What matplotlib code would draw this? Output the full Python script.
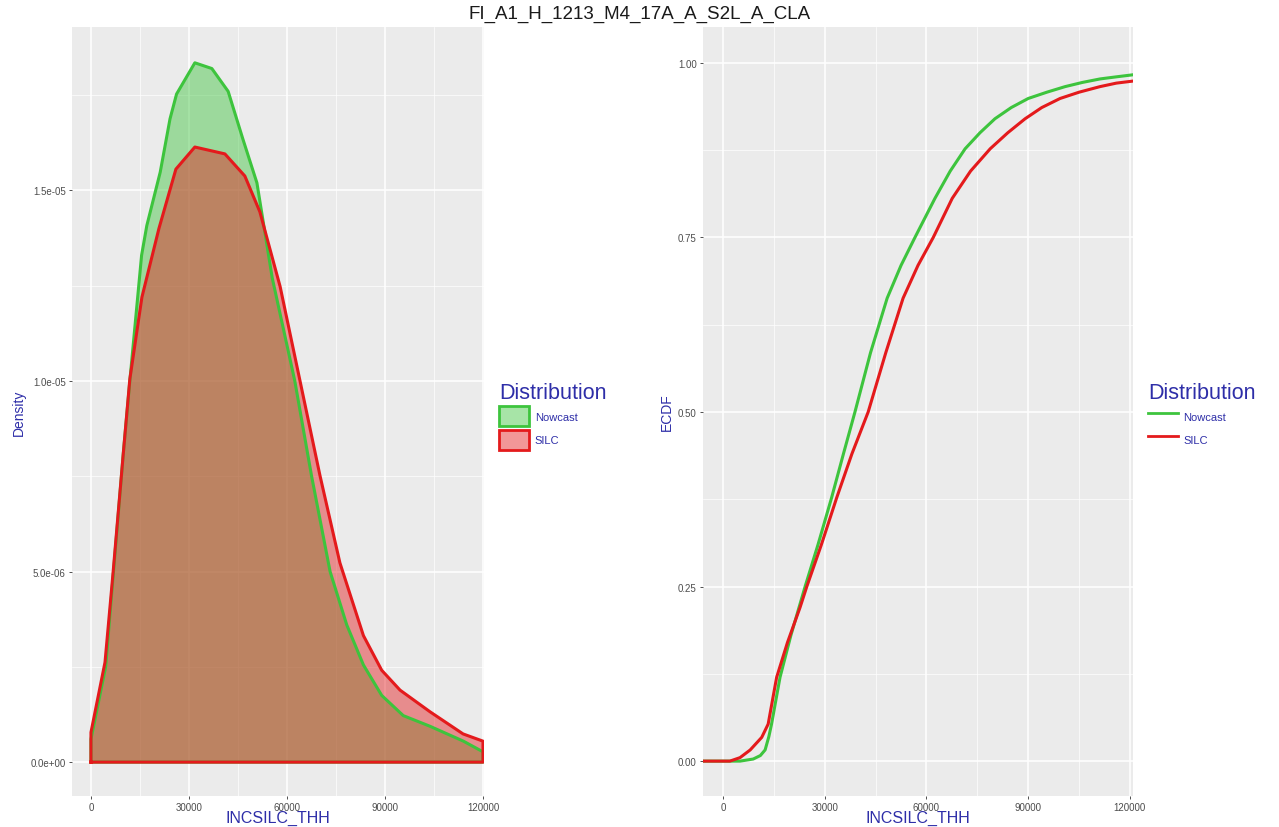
import matplotlib
matplotlib.use('Agg')
import matplotlib.pyplot as plt
from matplotlib.patches import Patch
from matplotlib.lines import Line2D

plt.rcParams['font.family'] = ['Liberation Sans', 'DejaVu Sans']

# density curves (y in units of 1e-5)
silc_x = [0, 0, 4300, 6800, 9900, 11900, 15600, 20800, 26000, 31800, 41000, 47100,
          51700, 57900, 64000, 70100, 76200, 83400, 89000, 94600, 103800, 113900, 120000, 120000]
silc_d = [0, 0.078, 0.262, 0.50, 0.81, 1.005, 1.22, 1.40, 1.556, 1.614, 1.596, 1.538,
          1.444, 1.248, 1.0, 0.752, 0.523, 0.332, 0.241, 0.189, 0.132, 0.074, 0.055, 0]
now_x = [0, 0, 4500, 6900, 9900, 11900, 15500, 17100, 21200, 24200, 26200, 31800, 37000,
         42000, 46500, 50800, 55500, 62400, 67500, 73200, 78300, 83400, 89000, 95600,
         103800, 114000, 120000, 120000]
now_d = [0, 0.06, 0.25, 0.50, 0.81, 1.0, 1.33, 1.408, 1.548, 1.688, 1.753, 1.835, 1.82,
         1.76, 1.635, 1.52, 1.27, 1.0, 0.752, 0.5, 0.36, 0.255, 0.175, 0.122,
         0.094, 0.055, 0.027, 0]

# ECDF curves
now_ex = [-6000, 5000, 8900, 11000, 12400, 13500, 14300, 16800, 20000, 24200, 28000,
          32000, 35500, 38900, 43500, 48400, 52500, 56600, 62500, 67000, 71400, 75800,
          80200, 85000, 90000, 95500, 100900, 106000, 111200, 116000, 121000]
now_ey = [0, 0, 0.003, 0.008, 0.016, 0.035, 0.053, 0.12, 0.18, 0.25, 0.31,
          0.377, 0.44, 0.50, 0.585, 0.663, 0.71, 0.75, 0.806, 0.845, 0.877, 0.90,
          0.92, 0.936, 0.949, 0.958, 0.966, 0.972, 0.977, 0.98, 0.983]
silc_ex = [-6000, 2000, 5000, 8000, 11400, 13300, 15800, 19000, 22700, 24700, 29000,
           33500, 38000, 42800, 48000, 53100, 57500, 62000, 67600, 73000, 78800, 84000,
           89100, 94000, 99400, 105000, 111200, 116000, 121000]
silc_ey = [0, 0, 0.005, 0.016, 0.034, 0.053, 0.12, 0.17, 0.22, 0.25, 0.31,
           0.377, 0.44, 0.50, 0.585, 0.663, 0.71, 0.75, 0.806, 0.845, 0.877, 0.90,
           0.92, 0.936, 0.949, 0.958, 0.966, 0.971, 0.974]

green = '#3DC43D'
red = '#E41A1C'
blue = '#2E2EA8'
bg = '#EBEBEB'

fig = plt.figure(figsize=(12.79, 8.28), dpi=100)
ax1 = fig.add_axes([0.0563, 0.0374, 0.3221, 0.9288])
ax2 = fig.add_axes([0.5497, 0.0374, 0.3361, 0.9288])


def style(ax, xt, xminor, yt, ylabels, yminor, ylabel):
    ax.set_facecolor(bg)
    for s in ax.spines.values():
        s.set_visible(False)
    ax.set_axisbelow(True)
    ax.set_xticks(xt)
    ax.set_xticklabels([str(v) for v in xt])
    ax.set_xticks(xminor, minor=True)
    ax.set_yticks(yt)
    ax.set_yticklabels(ylabels)
    ax.set_yticks(yminor, minor=True)
    ax.grid(which='major', color='white', linewidth=1.1)
    ax.grid(which='minor', color='white', linewidth=0.5)
    ax.tick_params(which='major', labelsize=7, labelcolor='#4D4D4D',
                   color='#333333', length=2.5, width=0.6, pad=2)
    ax.tick_params(which='minor', length=0)
    ax.set_xlabel('INCSILC_THH', color=blue, fontsize=11.5, labelpad=-1.5)
    ax.set_ylabel(ylabel, color=blue, fontsize=10, labelpad=3)


xt = [0, 30000, 60000, 90000, 120000]
xminor = [15000, 45000, 75000, 105000]

# left: densities
ny = [v * 1e-5 for v in now_d]
sy = [v * 1e-5 for v in silc_d]
ax1.fill(now_x, ny, facecolor=green, alpha=0.45, linewidth=0)
ax1.plot(now_x + [now_x[0]], ny + [ny[0]], color=green, linewidth=2.2)
ax1.fill(silc_x, sy, facecolor=red, alpha=0.45, linewidth=0)
ax1.plot(silc_x + [silc_x[0]], sy + [sy[0]], color=red, linewidth=2.2)
ax1.set_xlim(-5800, 120300)
ax1.set_ylim(-0.089e-5, 1.929e-5)
style(ax1, xt, xminor, [0, 0.5e-5, 1.0e-5, 1.5e-5],
      ['0.0e+00', '5.0e-06', '1.0e-05', '1.5e-05'],
      [0.25e-5, 0.75e-5, 1.25e-5, 1.75e-5], 'Density')

# right: ECDF
ax2.plot(now_ex, now_ey, color=green, linewidth=2.2)
ax2.plot(silc_ex, silc_ey, color=red, linewidth=2.2)
ax2.set_xlim(-5900, 120900)
ax2.set_ylim(-0.05, 1.0514)
style(ax2, xt, xminor, [0, 0.25, 0.5, 0.75, 1.0],
      ['0.00', '0.25', '0.50', '0.75', '1.00'],
      [0.125, 0.375, 0.625, 0.875], 'ECDF')

# legends
h1 = [Patch(facecolor=(0.24, 0.77, 0.24, 0.45), edgecolor=green, linewidth=2),
      Patch(facecolor=(0.89, 0.10, 0.11, 0.45), edgecolor=red, linewidth=2)]
h2 = [Line2D([0], [0], color=green, linewidth=2),
      Line2D([0], [0], color=red, linewidth=2)]
for handles, xpos in [(h1, 0.387), (h2, 0.894)]:
    leg = fig.legend(handles, ['Nowcast', 'SILC'], title='Distribution',
                     loc='upper left', bbox_to_anchor=(xpos, 0.543),
                     frameon=False, fontsize=8, labelcolor=blue,
                     handlelength=2.7, handleheight=2.4, handletextpad=0.5,
                     labelspacing=0.3, borderaxespad=0)
    leg.get_title().set_color(blue)
    leg.get_title().set_fontsize(15.5)
    leg._legend_box.align = 'left'

fig.text(0.5, 0.983, 'FI_A1_H_1213_M4_17A_A_S2L_A_CLA', ha='center', va='center',
         fontsize=13.5, color='#1A1A1A')

fig.savefig('out.png', dpi=100)
